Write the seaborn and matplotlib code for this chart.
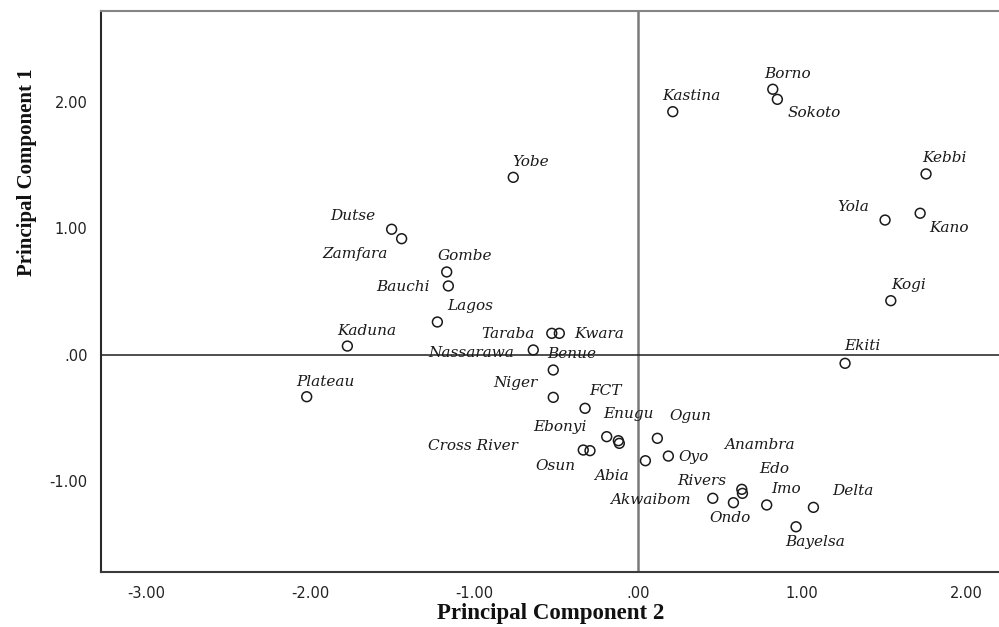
import matplotlib
matplotlib.use("Agg")
import matplotlib.pyplot as plt
import seaborn as sns
import pandas as pd

# State scores on the first two principal components
states = [
    "Borno", "Sokoto", "Kastina", "Kebbi", "Yola", "Kano", "Kogi", "Ekiti",
    "Yobe", "Dutse", "Zamfara", "Gombe", "Bauchi", "Lagos", "Kaduna", "Plateau",
    "Taraba", "Kwara", "Nassarawa", "Benue", "Niger", "FCT", "Ebonyi", "Enugu",
    "Anambra", "Ogun", "Cross River", "Osun", "Abia", "Oyo", "Akwaibom",
    "Edo", "Rivers", "Ondo", "Imo", "Delta", "Bayelsa",
]
pc2 = [
    0.820, 0.848, 0.210, 1.755, 1.505, 1.719, 1.540, 1.261,
    -0.763, -1.505, -1.444, -1.169, -1.159, -1.226, -1.775, -2.023,
    -0.528, -0.482, -0.641, -0.519, -0.519, -0.325, -0.193, -0.122,
    -0.116, 0.116, -0.336, -0.295, 0.043, 0.183, 0.454,
    0.631, 0.635, 0.580, 0.783, 1.068, 0.962,
]
pc1 = [
    2.105, 2.025, 1.927, 1.433, 1.067, 1.121, 0.427, -0.070,
    1.406, 0.994, 0.919, 0.655, 0.544, 0.258, 0.067, -0.335,
    0.168, 0.168, 0.036, -0.123, -0.340, -0.427, -0.652, -0.684,
    -0.705, -0.665, -0.758, -0.763, -0.843, -0.806, -1.141,
    -1.070, -1.102, -1.176, -1.194, -1.213, -1.367,
]
x_ticks = [-3, -2, -1, 0, 1, 2]
x_tick_labels = ["-3.00", "-2.00", "-1.00", ".00", "1.00", "2.00"]
y_ticks = [-1, 0, 1, 2]
y_tick_labels = ["-1.00", ".00", "1.00", "2.00"]

# Where each name sits relative to its marker, in pixels (right, down)
label_offsets = {
    "Borno": (15, -15), "Sokoto": (37, 14), "Kastina": (19, -16),
    "Kebbi": (18, -16), "Yola": (-32, -13), "Kano": (29, 15),
    "Kogi": (18, -16), "Ekiti": (17, -17), "Yobe": (17, -15),
    "Dutse": (-39, -13), "Zamfara": (-47, 15), "Gombe": (18, -16),
    "Bauchi": (-45, 1), "Lagos": (33, -16), "Kaduna": (19, -15),
    "Plateau": (19, -15), "Taraba": (-44, 1), "Kwara": (40, 1),
    "Nassarawa": (-62, 3), "Benue": (18, -16), "Niger": (-38, -14),
    "FCT": (20, -17), "Ebonyi": (-47, -10), "Enugu": (10, -27),
    "Anambra": (140, 2), "Ogun": (33, -22), "Cross River": (-110, -4),
    "Osun": (-35, 15), "Abia": (-34, 15), "Oyo": (25, 1),
    "Akwaibom": (-62, 2), "Edo": (32, -20), "Rivers": (-41, -12),
    "Ondo": (-3, 15), "Imo": (19, -16), "Delta": (39, -16),
    "Bayelsa": (19, 15),
}

sns.set_style("white")

W, H = 999, 627
fig = plt.figure(figsize=(W / 100, H / 100), dpi=100)
left, right, top, bottom = 101.3, 999.0, 11.0, 572.0
ax = fig.add_axes([left / W, 1 - bottom / H, (right - left) / W, (bottom - top) / H])

df = pd.DataFrame({"state": states, "pc2": pc2, "pc1": pc1})

# reference lines through the origin
ax.axvline(0, color="#7a7a7a", lw=1.8, zorder=1)
ax.axhline(0, color="#1e1e1e", lw=1.1, zorder=1)

sns.scatterplot(data=df, x="pc2", y="pc1", ax=ax, marker="o", s=50,
                fc="none", ec="#1a1a1a", linewidth=1.1, zorder=3, legend=False)

for name, xv, yv in zip(states, pc2, pc1):
    dx, dy = label_offsets[name]
    ax.annotate(name, (xv, yv), xytext=(dx, -dy), textcoords="offset pixels",
                ha="center", va="center", fontsize=11, fontstyle="italic",
                family="DejaVu Serif", color="#1a1a1a", zorder=4)

ax.set_xlim(-3.276, 2.20)
ax.set_ylim(-1.726, 2.726)
ax.set_xticks(x_ticks)
ax.set_xticklabels(x_tick_labels)
ax.set_yticks(y_ticks)
ax.set_yticklabels(y_tick_labels)
ax.tick_params(axis="both", direction="out", length=6, width=1.3, color="#3a3a3a",
               labelsize=10.5, labelcolor="#222222", pad=4)
for lab in ax.get_xticklabels() + ax.get_yticklabels():
    lab.set_family("DejaVu Sans")
ax.set_xlabel("")
ax.set_ylabel("")

ax.spines["left"].set_color("#2a2a2a")
ax.spines["left"].set_linewidth(1.5)
ax.spines["bottom"].set_color("#3a3a3a")
ax.spines["bottom"].set_linewidth(1.5)
ax.spines["top"].set_color("#858585")
ax.spines["top"].set_linewidth(1.5)
ax.spines["right"].set_visible(False)

fig.text(551 / W, 1 - 614 / H, "Principal Component 2", ha="center", va="center",
         family="Liberation Serif", fontweight="bold", fontsize=16.5, color="#111111")
fig.text(27 / W, 1 - 172 / H, "Principal Component 1", ha="center", va="center",
         rotation=90, family="Liberation Serif", fontweight="bold", fontsize=15,
         color="#111111")

fig.savefig("out.png", dpi=100, facecolor="white")
